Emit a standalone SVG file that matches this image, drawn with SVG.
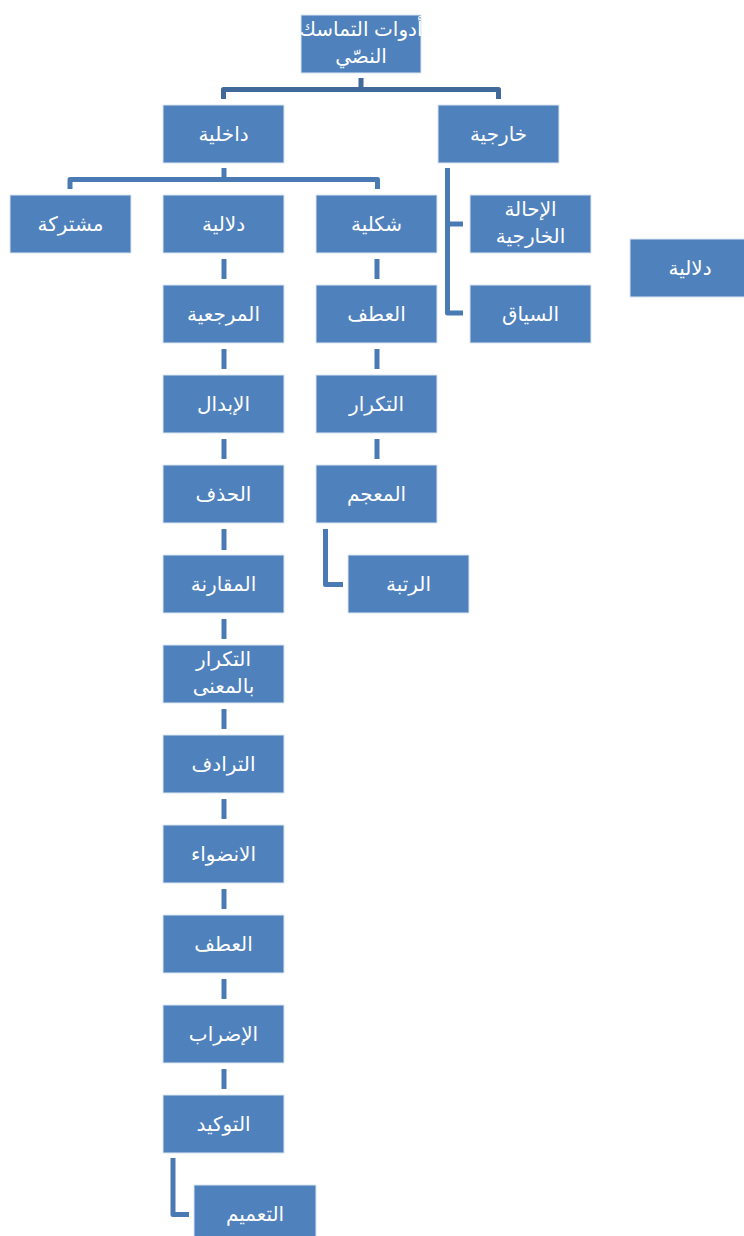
<svg xmlns="http://www.w3.org/2000/svg" width="744" height="1236" viewBox="0 0 744 1236">
  <style>
    .box rect { fill: #4F81BD; stroke: #DCE6F2; stroke-width: 1; }
    .box text { fill: #FFFFFF; font-family: "Liberation Sans", "DejaVu Sans", sans-serif; font-size: 20px; text-anchor: middle; }
    .c1 { fill: none; stroke: #41699B; stroke-width: 5; stroke-linejoin: round; }
    .c2 { fill: none; stroke: #4A7AB3; stroke-width: 5; stroke-linejoin: round; }
  </style>

  <!-- connectors -->
  <g id="connectors">
    <path class="c1" d="M361 78 V89.5 M223.5 99 V89.5 H498.5 V99"/>
    <path class="c2" d="M224 168 V179.5 M70 189 V179.5 H377.5 V189"/>
    <path class="c2" d="M447.5 168 V313 H463 M447.5 224 H463"/>
    <path class="c2" d="M224 259 V279 M224 349 V369 M224 439 V459 M224 529 V550 M224 619 V639 M224 709 V729 M224 799 V819 M224 889 V909 M224 979 V999 M224 1069 V1089"/>
    <path class="c2" d="M377 259 V279 M377 349 V369 M377 439 V459"/>
    <path class="c2" d="M325.5 529 V584.5 H343"/>
    <path class="c2" d="M173 1158 V1214.5 H189"/>
  </g>

  <!-- root -->
  <g id="root" class="box">
    <rect x="301" y="15" width="120" height="58"/>
    <text x="361" y="36">أدوات التماسك</text>
    <text x="361" y="63">النصّي</text>
  </g>

  <!-- level 1 -->
  <g id="internal" class="box">
    <rect x="163" y="105" width="121" height="58"/>
    <text x="223.5" y="141">داخلية</text>
  </g>
  <g id="external" class="box">
    <rect x="438" y="105" width="121" height="58"/>
    <text x="498.5" y="141">خارجية</text>
  </g>

  <!-- level 2 -->
  <g id="shared" class="box">
    <rect x="10" y="195" width="121" height="58"/>
    <text x="70.5" y="231">مشتركة</text>
  </g>
  <g id="semantic" class="box">
    <rect x="163" y="195" width="121" height="58"/>
    <text x="223.5" y="231">دلالية</text>
  </g>
  <g id="formal" class="box">
    <rect x="316" y="195" width="121" height="58"/>
    <text x="376.5" y="231">شكلية</text>
  </g>
  <g id="ext-reference" class="box">
    <rect x="470" y="195" width="121" height="58"/>
    <text x="530.5" y="216">الإحالة</text>
    <text x="530.5" y="243">الخارجية</text>
  </g>
  <g id="context" class="box">
    <rect x="470" y="285" width="121" height="58"/>
    <text x="530.5" y="321">السياق</text>
  </g>
  <g id="semantic-2" class="box">
    <rect x="630" y="239" width="115" height="58"/>
    <text x="690" y="275">دلالية</text>
  </g>

  <!-- semantic column -->
  <g id="referentiality" class="box">
    <rect x="163" y="285" width="121" height="58"/>
    <text x="223.5" y="321">المرجعية</text>
  </g>
  <g id="substitution" class="box">
    <rect x="163" y="375" width="121" height="58"/>
    <text x="223.5" y="411">الإبدال</text>
  </g>
  <g id="ellipsis" class="box">
    <rect x="163" y="465" width="121" height="58"/>
    <text x="223.5" y="501">الحذف</text>
  </g>
  <g id="comparison" class="box">
    <rect x="163" y="555" width="121" height="58"/>
    <text x="223.5" y="591">المقارنة</text>
  </g>
  <g id="semantic-repetition" class="box">
    <rect x="163" y="645" width="121" height="58"/>
    <text x="223.5" y="666">التكرار</text>
    <text x="223.5" y="693">بالمعنى</text>
  </g>
  <g id="synonymy" class="box">
    <rect x="163" y="735" width="121" height="58"/>
    <text x="223.5" y="771">الترادف</text>
  </g>
  <g id="inclusion" class="box">
    <rect x="163" y="825" width="121" height="58"/>
    <text x="223.5" y="861">الانضواء</text>
  </g>
  <g id="conjunction-sem" class="box">
    <rect x="163" y="915" width="121" height="58"/>
    <text x="223.5" y="951">العطف</text>
  </g>
  <g id="digression" class="box">
    <rect x="163" y="1005" width="121" height="58"/>
    <text x="223.5" y="1041">الإضراب</text>
  </g>
  <g id="emphasis" class="box">
    <rect x="163" y="1095" width="121" height="58"/>
    <text x="223.5" y="1131">التوكيد</text>
  </g>
  <g id="generalization" class="box">
    <rect x="194" y="1185" width="122" height="58"/>
    <text x="255" y="1221">التعميم</text>
  </g>

  <!-- formal column -->
  <g id="conjunction" class="box">
    <rect x="316" y="285" width="121" height="58"/>
    <text x="376.5" y="321">العطف</text>
  </g>
  <g id="repetition" class="box">
    <rect x="316" y="375" width="121" height="58"/>
    <text x="376.5" y="411">التكرار</text>
  </g>
  <g id="lexicon" class="box">
    <rect x="316" y="465" width="121" height="58"/>
    <text x="376.5" y="501">المعجم</text>
  </g>
  <g id="order" class="box">
    <rect x="348" y="555" width="121" height="58"/>
    <text x="408.5" y="591">الرتبة</text>
  </g>
</svg>
